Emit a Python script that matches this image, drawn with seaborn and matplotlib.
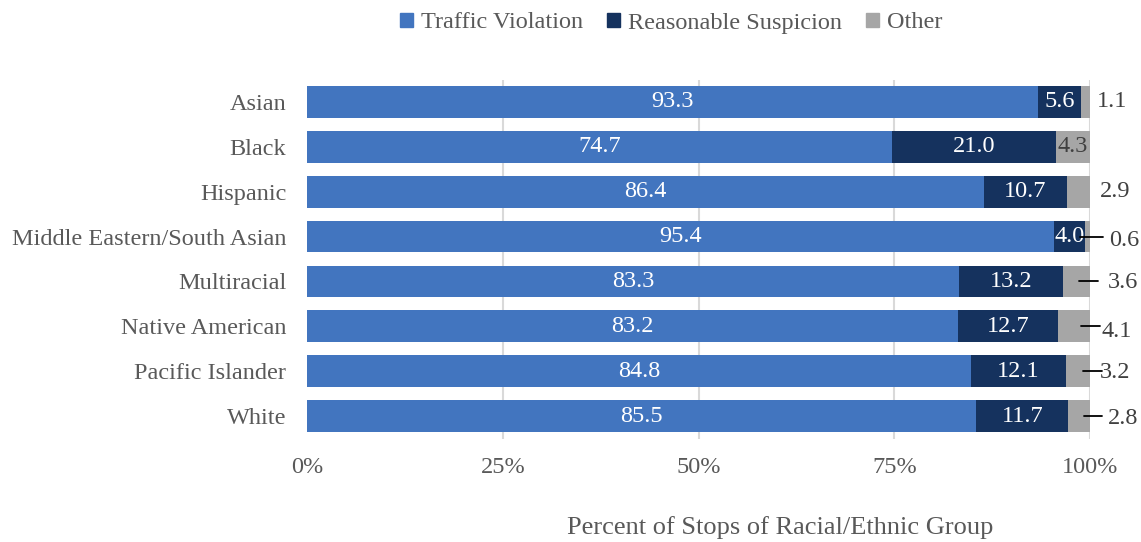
import matplotlib
matplotlib.use("Agg")
import matplotlib.pyplot as plt
import seaborn as sns
import pandas as pd
from matplotlib.ticker import PercentFormatter

groups = ["Asian", "Black", "Hispanic", "Middle Eastern/South Asian",
          "Multiracial", "Native American", "Pacific Islander", "White"]
traffic = [93.3, 74.7, 86.4, 95.4, 83.3, 83.2, 84.8, 85.5]
suspicion = [5.6, 21.0, 10.7, 4.0, 13.2, 12.7, 12.1, 11.7]
other = [1.1, 4.3, 2.9, 0.6, 3.6, 4.1, 3.2, 2.8]

series = ["Traffic Violation", "Reasonable Suspicion", "Other"]
colors = ["#4275BF", "#15325E", "#A6A6A6"]

# where the "Other" labels go, in pixels right of the 100% line
# (label x center, label y shift, leader line start, leader line end or None)
other_layout = {
    "Asian": (22, 0, None, None),
    "Black": None,
    "Hispanic": (25, 0, None, None),
    "Middle Eastern/South Asian": (34, 4, -10, 13),
    "Multiracial": (33, 1, -11, 8),
    "Native American": (27, 5, -9, 10),
    "Pacific Islander": (25, 1, -7, 12),
    "White": (33, 2, -6, 12),
}

FS = 17.5

df = pd.DataFrame({"group": groups, "traffic": traffic,
                   "suspicion": suspicion, "other": other})
df["cum2"] = df["traffic"] + df["suspicion"]
df["cum3"] = df["cum2"] + df["other"]
for c in ["traffic", "suspicion", "other", "cum2", "cum3"]:
    df[c + "_f"] = df[c] / 100.0

sns.set_style("white")
plt.rcParams["font.family"] = ["Liberation Serif", "DejaVu Serif"]

fig = plt.figure(figsize=(11.41, 5.42), dpi=100)
ax = fig.add_axes([307 / 1141, 1 - 438.5 / 542, 783 / 1141, 359 / 542])

# light vertical gridlines behind the bars
for gx in [0.25, 0.5, 0.75, 1.0]:
    ax.axvline(gx, color="#D9D9D9", lw=1.5, zorder=0)

bw = 0.71
sns.barplot(data=df, x="cum3_f", y="group", color=colors[2], width=bw,
            orient="h", ax=ax, saturation=1, linewidth=0, zorder=2)
sns.barplot(data=df, x="cum2_f", y="group", color=colors[1], width=bw,
            orient="h", ax=ax, saturation=1, linewidth=0, zorder=2)
sns.barplot(data=df, x="traffic_f", y="group", color=colors[0], width=bw,
            orient="h", ax=ax, saturation=1, linewidth=0, zorder=2)

px = 1 / 783.0
for i, row in df.iterrows():
    ax.text(row["traffic_f"] / 2, i, f"{row['traffic']:.1f}", ha="center",
            va="center", color="white", fontsize=FS, zorder=4)
    ax.text(row["traffic_f"] + row["suspicion_f"] / 2, i, f"{row['suspicion']:.1f}",
            ha="center", va="center", color="white", fontsize=FS, zorder=4)
    lay = other_layout[row["group"]]
    if lay is None:
        ax.text(row["cum2_f"] + row["other_f"] / 2, i, f"{row['other']:.1f}",
                ha="center", va="center", color="#404040", fontsize=FS, zorder=4)
    else:
        lx, dy, l0, l1 = lay
        ax.text(1 + lx * px, i + dy / 44.9, f"{row['other']:.1f}", ha="center",
                va="center", color="#404040", fontsize=FS, clip_on=False)
        if l0 is not None:
            ax.plot([1 + l0 * px, 1 + l1 * px], [i, i], color="black", lw=1.3,
                    clip_on=False, zorder=5)

ax.set_xlim(0, 1)
ax.set_ylim(7.5, -0.5)
ax.set_xticks([0, 0.25, 0.5, 0.75, 1.0])
ax.xaxis.set_major_formatter(PercentFormatter(1.0, decimals=0))
ax.tick_params(axis="x", length=0, pad=13, labelsize=FS, labelcolor="#595959")
ax.tick_params(axis="y", length=0, pad=15, labelsize=FS, labelcolor="#595959")
ax.set_xlabel("")
ax.set_ylabel("")
sns.despine(ax=ax, left=True, bottom=True)

fig.text(780 / 1141, 1 - 528 / 542, "Percent of Stops of Racial/Ethnic Group",
         ha="center", va="center", fontsize=19, color="#595959")

handles = [plt.Rectangle((0, 0), 1, 1, color=c) for c in colors]
fig.legend(handles, series, loc="center", bbox_to_anchor=(671 / 1141, 1 - 23 / 542),
           ncol=3, frameon=False, fontsize=FS, handlelength=0.55, handleheight=0.55,
           handletextpad=0.3, columnspacing=1.0, labelcolor="#595959")

fig.savefig("out.png", dpi=100)
